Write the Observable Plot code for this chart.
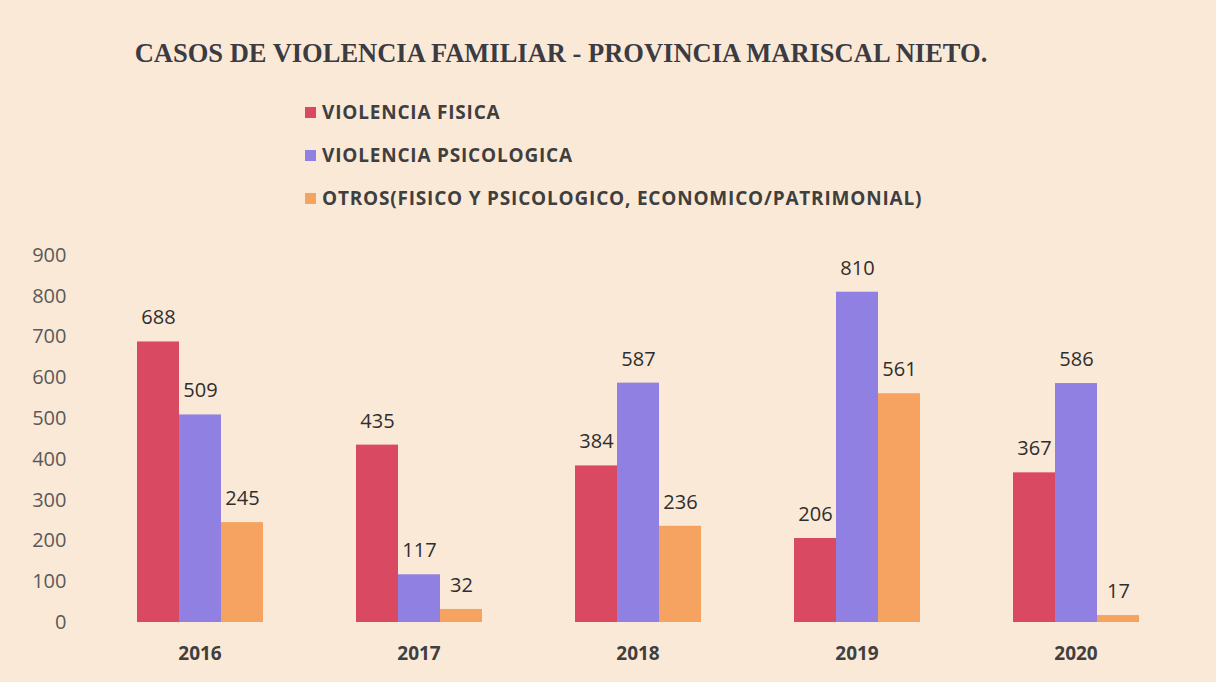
<!DOCTYPE html>
<html>
<head>
<meta charset="utf-8">
<script src="https://cdn.jsdelivr.net/npm/d3@7"></script>
<script src="https://cdn.jsdelivr.net/npm/@observablehq/plot@0.6"></script>
<style>
  html, body { margin: 0; padding: 0; background: #fbe9d7; }
  body { width: 1216px; height: 682px; overflow: hidden; position: relative; font-family: "Open Sans", Lato, sans-serif; }
  #title { position: absolute; left: 0; top: 38px; width: 1122px; text-align: center; font-family: "Liberation Serif", "DejaVu Serif", serif; font-weight: bold; font-size: 26.5px; color: #3b3b44; }
  #legend { position: absolute; left: 305px; top: 100px; }
  .item { display: flex; align-items: center; height: 24px; margin-bottom: 19px; font-weight: bold; font-size: 19px; letter-spacing: 0.8px; color: #3f3f3f; }
  .sw { width: 11px; height: 11px; margin-right: 6px; }
  #chart { position: absolute; left: 0; top: 235px; }
  #chart svg { background: transparent; }
</style>
</head>
<body>
<div id="title">CASOS DE VIOLENCIA FAMILIAR - PROVINCIA MARISCAL NIETO.</div>
<div id="legend"></div>
<div id="chart"></div>
<script>
const years = ["2016", "2017", "2018", "2019", "2020"];
const series = ["VIOLENCIA FISICA", "VIOLENCIA PSICOLOGICA", "OTROS(FISICO Y PSICOLOGICO, ECONOMICO/PATRIMONIAL)"];
const fisica = [688, 435, 384, 206, 367];
const psicologica = [509, 117, 587, 810, 586];
const otros = [245, 32, 236, 561, 17];
const colors = ["#d94a62", "#8f80e2", "#f6a362"];
const yTicks = [0, 100, 200, 300, 400, 500, 600, 700, 800, 900];

const values = [fisica, psicologica, otros];
const data = [];
years.forEach((yr, i) => {
  series.forEach((s, j) => data.push({year: yr, serie: s, value: values[j][i]}));
});

const legend = document.getElementById("legend");
series.forEach((s, j) => {
  const d = document.createElement("div");
  d.className = "item";
  d.innerHTML = `<span class="sw" style="background:${colors[j]}"></span><span>${s}</span>`;
  legend.appendChild(d);
});

const chart = Plot.plot({
  width: 1216,
  height: 440,
  marginTop: 20,
  marginBottom: 53,
  marginLeft: 90,
  marginRight: 31,
  style: {background: "transparent", fontFamily: "'Open Sans', Lato, sans-serif"},
  fx: {domain: years, padding: 0, label: null, axis: null},
  x: {domain: series, paddingInner: 0, paddingOuter: 1.05, axis: null},
  y: {domain: [0, 900], axis: null},
  color: {domain: series, range: colors},
  marks: [
    Plot.axisY({ticks: yTicks, tickSize: 0, tickPadding: 24, label: null, fontSize: 20, fill: "#5a5a5a", facetAnchor: "left"}),
    Plot.axisFx({anchor: "bottom", tickSize: 0, tickPadding: 24, label: null, fontSize: 19, fontWeight: "bold", fill: "#3f3f3f"}),
    Plot.barY(data, {fx: "year", x: "serie", y: "value", fill: "serie", inset: 0}),
    Plot.text(data, {fx: "year", x: "serie", y: "value", text: d => String(d.value), dy: -24, fontSize: 20, fill: "#2e2e2e"})
  ]
});
document.getElementById("chart").appendChild(chart);
</script>
</body>
</html>
